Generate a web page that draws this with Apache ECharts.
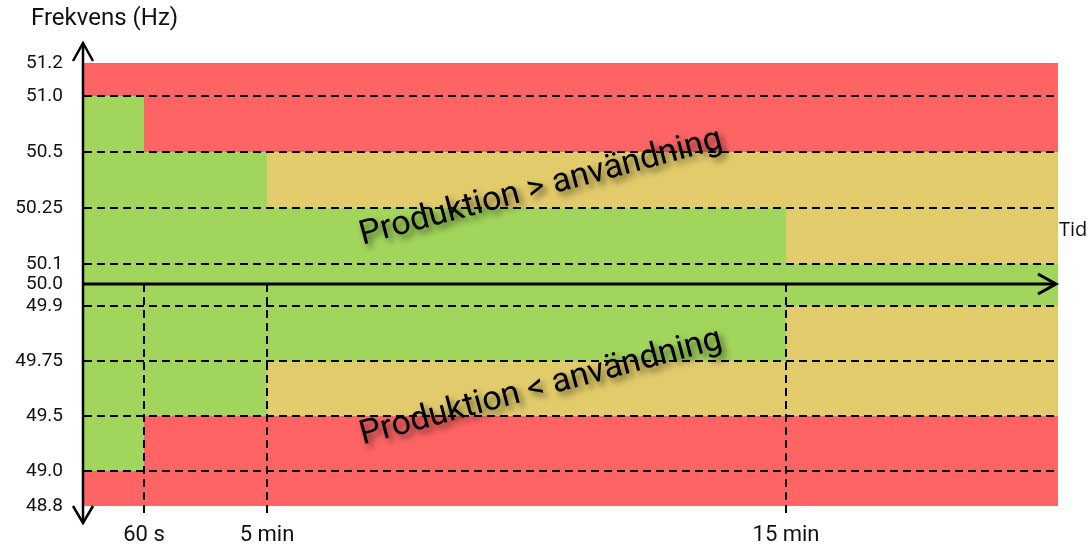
<!DOCTYPE html>
<html><head><meta charset="utf-8">
<script src="https://cdn.jsdelivr.net/npm/echarts@6/dist/echarts.min.js"></script>
<style>html,body{margin:0;padding:0;background:#fff}#c{width:1087px;height:547px}</style>
</head><body><div id="c"></div>
<script>
// ---- data ----
const freqLevels = [48.8, 49.0, 49.5, 49.75, 49.9, 50.0, 50.1, 50.25, 50.5, 51.0, 51.2];
const freqLabels = ['48.8', '49.0', '49.5', '49.75', '49.9', '50.0', '50.1', '50.25', '50.5', '51.0', '51.2'];
const timeBreaks = ['start', '60 s', '5 min', '15 min', 'end'];
const timeLabels = ['60 s', '5 min', '15 min'];
// [fLow, fHigh, tStart, tEnd, zone]
const zones = [
  [51.0, 51.2, 'start', 'end', 'red'],
  [50.5, 51.0, 'start', '60 s', 'green'],
  [50.5, 51.0, '60 s', 'end', 'red'],
  [50.25, 50.5, 'start', '5 min', 'green'],
  [50.25, 50.5, '5 min', 'end', 'yellow'],
  [50.1, 50.25, 'start', '15 min', 'green'],
  [50.1, 50.25, '15 min', 'end', 'yellow'],
  [49.9, 50.1, 'start', 'end', 'green'],
  [49.75, 49.9, 'start', '15 min', 'green'],
  [49.75, 49.9, '15 min', 'end', 'yellow'],
  [49.5, 49.75, 'start', '5 min', 'green'],
  [49.5, 49.75, '5 min', 'end', 'yellow'],
  [49.0, 49.5, 'start', '60 s', 'green'],
  [49.0, 49.5, '60 s', 'end', 'red'],
  [48.8, 49.0, 'start', 'end', 'red']
];
const dashedLevels = [51.0, 50.5, 50.25, 50.1, 49.9, 49.75, 49.5, 49.0];
const axisLevel = 50.0;

// ---- schematic (non-linear) scales of the diagram ----
const yScalePos = [0, 35, 90, 145, 200, 222, 242, 298, 354, 410, 443];
const xScalePos = [0, 61, 184, 703, 975];
const yPos = f => yScalePos[freqLevels.indexOf(f)];
const xPos = t => xScalePos[timeBreaks.indexOf(t)];

const zoneColors = { green: '#a2d55b', yellow: '#e2cb6a', red: '#ff6464' };

const chart = echarts.init(document.getElementById('c'), null, { renderer: 'canvas' });

const seriesData = zones.map(z => ({
  value: [xPos(z[2]), xPos(z[3]), yPos(z[0]), yPos(z[1])],
  itemStyle: { color: zoneColors[z[4]] }
}));

chart.setOption({
  animation: false,
  grid: { left: 83, right: 29, top: 63, bottom: 41 },
  xAxis: {
    type: 'value', min: 0, max: xScalePos[xScalePos.length - 1],
    axisLine: { show: false }, axisTick: { show: false }, splitLine: { show: false },
    axisLabel: {
      customValues: timeLabels.map(xPos),
      formatter: v => timeBreaks[xScalePos.indexOf(v)],
      margin: 18, fontSize: 22, fontFamily: 'Roboto', color: '#111'
    }
  },
  yAxis: {
    type: 'value', min: 0, max: yScalePos[yScalePos.length - 1],
    axisLine: { show: false }, axisTick: { show: false }, splitLine: { show: false },
    axisLabel: {
      customValues: freqLevels.map(yPos),
      formatter: v => freqLabels[yScalePos.indexOf(v)],
      margin: 20, fontSize: 19, fontFamily: 'Roboto', color: '#111'
    }
  },
  series: [{
    type: 'custom',
    encode: { x: [0, 1], y: [2, 3] },
    renderItem: function (params, api) {
      const p0 = api.coord([api.value(0), api.value(3)]);
      const p1 = api.coord([api.value(1), api.value(2)]);
      return {
        type: 'rect',
        shape: { x: p0[0], y: p0[1], width: p1[0] - p0[0], height: p1[1] - p0[1] },
        style: { fill: api.visual('color') }
      };
    },
    data: seriesData
  }]
});

function px(t, f) {
  return chart.convertToPixel({ gridIndex: 0 }, [xPos(t), yPos(f)]);
}
const g = [];
const dashStyle = { stroke: '#000', lineWidth: 2, lineDash: [8, 5] };
dashedLevels.forEach(f => {
  const a = px('start', f), b = px('end', f);
  g.push({ type: 'line', z: 100, shape: { x1: a[0] + 1, y1: a[1], x2: b[0], y2: b[1] }, style: dashStyle });
});
const bottomY = px('start', 48.8)[1];
const topY = px('start', 51.2)[1];
timeLabels.forEach(t => {
  const a = px(t, axisLevel);
  g.push({ type: 'line', z: 100, shape: { x1: a[0], y1: a[1], x2: a[0], y2: bottomY + 12 }, style: dashStyle });
});
// time axis arrow at 50.0
const o = px('start', axisLevel), e = px('end', axisLevel);
g.push({ type: 'line', z: 101, shape: { x1: o[0], y1: o[1], x2: e[0] - 2, y2: e[1] }, style: { stroke: '#000', lineWidth: 3 } });
g.push({ type: 'polyline', z: 101, shape: { points: [[e[0] - 20, e[1] - 10], [e[0] - 2, e[1]], [e[0] - 20, e[1] + 10]] }, style: { stroke: '#000', lineWidth: 3, fill: null } });
// frequency axis (double arrow)
const ax = o[0];
g.push({ type: 'line', z: 101, shape: { x1: ax, y1: topY - 20, x2: ax, y2: bottomY + 17 }, style: { stroke: '#000', lineWidth: 2.5 } });
g.push({ type: 'polyline', z: 101, shape: { points: [[ax - 10, topY - 2], [ax, topY - 20], [ax + 10, topY - 2]] }, style: { stroke: '#000', lineWidth: 2.5, fill: null } });
g.push({ type: 'polyline', z: 101, shape: { points: [[ax - 10, bottomY], [ax, bottomY + 17], [ax + 10, bottomY]] }, style: { stroke: '#000', lineWidth: 2.5, fill: null } });
// axis names
g.push({ type: 'text', z: 101, x: 31, y: 19, style: { text: 'Frekvens (Hz)', font: '24px Roboto', fill: '#111', align: 'left', verticalAlign: 'middle' } });
g.push({ type: 'text', z: 101, x: e[0] + 1, y: 230, style: { text: 'Tid', font: '20px "Open Sans"', fill: '#111', align: 'left', verticalAlign: 'middle' } });
// diagonal annotations
const shadow = { textShadowColor: 'rgba(0,0,0,0.55)', textShadowBlur: 6, textShadowOffsetX: 4, textShadowOffsetY: 4 };
g.push({ type: 'text', z: 102, x: 541, y: 188, rotation: 0.262, style: Object.assign({ text: 'Produktion > användning', font: '34px Roboto', fill: '#000', align: 'center', verticalAlign: 'middle' }, shadow) });
g.push({ type: 'text', z: 102, x: 541, y: 388, rotation: 0.262, style: Object.assign({ text: 'Produktion < användning', font: '34px Roboto', fill: '#000', align: 'center', verticalAlign: 'middle' }, shadow) });

chart.setOption({ graphic: g });
</script>
</body></html>
